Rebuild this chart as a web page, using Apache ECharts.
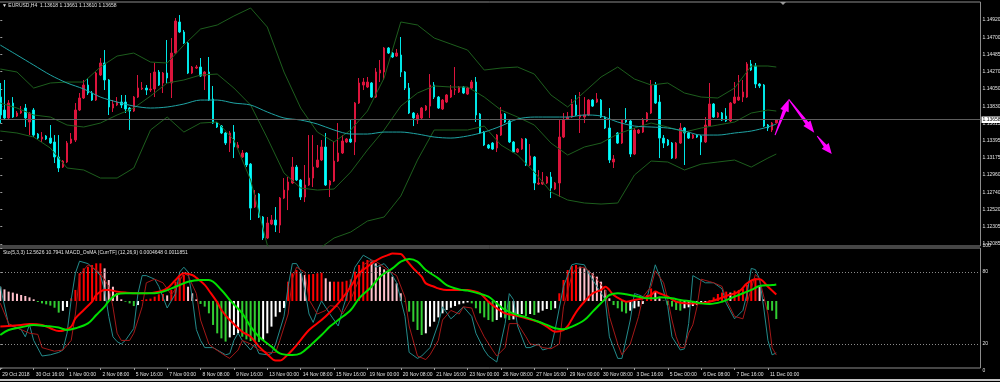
<!DOCTYPE html>
<html><head><meta charset="utf-8">
<script src="https://cdn.jsdelivr.net/npm/echarts@6/dist/echarts.min.js"></script>
<style>html,body{margin:0;padding:0;background:#000;overflow:hidden}#c{width:1000px;height:382px}</style>
</head><body><div id="c"></div>
<script>
// ---------- price bars (EURUSD H4), bar index 0 = 29 Oct 2018 08:00 ----------
const candleOpen = [
1.13945,1.13781,1.13680,1.13869,1.13705,1.13743,1.13806,1.13629,1.13781,1.13477,
1.13414,1.13452,1.13426,1.13376,1.13186,1.13059,1.13123,1.13363,1.13401,1.13781,
1.13933,1.14097,1.13996,1.13907,1.14224,1.14376,1.14161,1.13806,1.13844,1.13882,
1.13882,1.13806,1.13768,1.13945,1.14047,1.14059,1.14034,1.14047,1.14262,1.14123,
1.14249,1.14123,1.14502,1.14895,1.14768,1.14629,1.14249,1.14312,1.14325,1.14211,
1.14262,1.13920,1.13616,1.13578,1.13490,1.13363,1.13502,1.13300,1.13186,1.13237,
1.13097,1.12553,1.12718,1.12427,1.12161,1.12338,1.12389,1.12325,1.12667,1.12768,
1.12857,1.13059,1.12895,1.12680,1.12832,1.12920,1.13059,1.13148,1.13313,1.12832,
1.12882,1.13135,1.13237,1.13376,1.13414,1.13376,1.13869,1.14097,1.14072,1.14123,
1.13945,1.14249,1.14262,1.14566,1.14502,1.14464,1.14477,1.14262,1.14059,1.13743,
1.13654,1.13680,1.13781,1.13831,1.14097,1.13945,1.13794,1.13882,1.13945,1.14034,
1.14009,1.14072,1.13983,1.14059,1.14135,1.13730,1.13502,1.13338,1.13363,1.13300,
1.13464,1.13730,1.13642,1.13376,1.13249,1.13287,1.13414,1.13085,1.13186,1.12844,
1.12844,1.12857,1.12933,1.12781,1.12857,1.13439,1.13667,1.13692,1.13844,1.13692,
1.13692,1.13718,1.13907,1.13882,1.13907,1.13692,1.13553,1.13123,1.13490,1.13363,
1.13654,1.13642,1.13224,1.13490,1.13502,1.13642,1.13743,1.14097,1.13882,1.13426,
1.13401,1.13363,1.13173,1.13363,1.13553,1.13490,1.13426,1.13464,1.13452,1.13376,
1.13578,1.13857,1.13692,1.13743,1.13705,1.13642,1.13869,1.13907,1.13945,1.13945,
1.14363,1.14338,1.14110,1.14097,1.13591,1.13528,1.13618];
const candleClose = [
1.13718,1.13680,1.13869,1.13692,1.13743,1.13768,1.13680,1.13743,1.13464,1.13426,
1.13439,1.13414,1.13363,1.13186,1.13047,1.13135,1.13363,1.13414,1.13781,1.13933,
1.14097,1.13996,1.13907,1.14249,1.14376,1.14161,1.13819,1.13857,1.13882,1.13844,
1.13794,1.13768,1.13945,1.14059,1.14059,1.14034,1.14047,1.14262,1.14097,1.14249,
1.14186,1.14502,1.14907,1.14768,1.14629,1.14249,1.14325,1.14325,1.14211,1.14262,
1.13907,1.13616,1.13566,1.13490,1.13363,1.13490,1.13313,1.13338,1.13237,1.13085,
1.12540,1.12705,1.12427,1.12161,1.12351,1.12389,1.12325,1.12667,1.12768,1.12870,
1.13059,1.12895,1.12680,1.12832,1.12920,1.13059,1.13148,1.13313,1.12832,1.12882,
1.13135,1.13237,1.13389,1.13414,1.13376,1.13869,1.14123,1.14135,1.14135,1.13945,
1.14262,1.14287,1.14566,1.14502,1.14452,1.14502,1.14262,1.14059,1.13743,1.13680,
1.13718,1.13806,1.13831,1.14097,1.13945,1.13806,1.13907,1.13971,1.14034,1.14040,
1.14072,1.13996,1.14059,1.14135,1.13718,1.13490,1.13338,1.13300,1.13287,1.13464,
1.13730,1.13629,1.13376,1.13249,1.13287,1.13414,1.13085,1.13199,1.12857,1.12857,
1.12870,1.12933,1.12794,1.12857,1.13439,1.13654,1.13692,1.13857,1.13718,1.13718,
1.13718,1.13907,1.13831,1.13920,1.13692,1.13553,1.13148,1.13161,1.13363,1.13654,
1.13629,1.13224,1.13528,1.13528,1.13654,1.13743,1.14097,1.13869,1.13426,1.13363,
1.13338,1.13173,1.13363,1.13553,1.13490,1.13426,1.13464,1.13439,1.13376,1.13591,
1.13857,1.13692,1.13743,1.13654,1.13642,1.13869,1.13945,1.13945,1.14009,1.14363,
1.14287,1.14110,1.14085,1.13578,1.13553,1.13616,1.13658];
const candleLow = [
1.13616,1.13667,1.13667,1.13680,1.13692,1.13730,1.13566,1.13464,1.13439,1.13414,
1.13376,1.13401,1.13351,1.13110,1.12996,1.13047,1.13110,1.13351,1.13376,1.13768,
1.13920,1.13971,1.13895,1.13895,1.14211,1.14034,1.13718,1.13756,1.13831,1.13806,
1.13743,1.13528,1.13756,1.13933,1.14034,1.13971,1.14009,1.13945,1.14085,1.13996,
1.14123,1.13933,1.14490,1.14755,1.14616,1.14236,1.14236,1.14300,1.14199,1.14034,
1.13895,1.13604,1.13553,1.13477,1.13338,1.13249,1.13173,1.13287,1.13173,1.13059,
1.12389,1.12541,1.12414,1.12136,1.12148,1.12325,1.12237,1.12224,1.12654,1.12515,
1.12844,1.12882,1.12642,1.12616,1.12819,1.12806,1.13047,1.13135,1.12819,1.12680,
1.12870,1.13123,1.13224,1.13363,1.13363,1.13211,1.13857,1.14034,1.14059,1.13933,
1.13933,1.14135,1.14161,1.14490,1.14439,1.14452,1.14199,1.14034,1.13730,1.13578,
1.13604,1.13667,1.13768,1.13680,1.13920,1.13794,1.13781,1.13869,1.13933,1.13971,
1.13996,1.13983,1.13971,1.14047,1.13629,1.13477,1.13325,1.13287,1.13275,1.13249,
1.13452,1.13616,1.13363,1.13237,1.13237,1.13275,1.13072,1.13072,1.12768,1.12832,
1.12832,1.12844,1.12667,1.12768,1.12680,1.13426,1.13654,1.13680,1.13705,1.13490,
1.13616,1.13705,1.13819,1.13869,1.13680,1.13540,1.13110,1.13047,1.13351,1.13351,
1.13616,1.13186,1.13211,1.13477,1.13490,1.13629,1.13730,1.13857,1.13173,1.13300,
1.13325,1.13161,1.13161,1.13351,1.13085,1.13414,1.13414,1.13426,1.13211,1.13363,
1.13566,1.13680,1.13680,1.13642,1.13629,1.13629,1.13857,1.13895,1.13882,1.13933,
1.14274,1.14059,1.14059,1.13566,1.13515,1.13502,1.13610];
const candleHigh = [
1.14123,1.14161,1.13907,1.13945,1.13768,1.13831,1.13857,1.13756,1.13806,1.13490,
1.13502,1.13464,1.13591,1.13464,1.13464,1.13148,1.13389,1.13490,1.13869,1.13996,
1.14161,1.14186,1.14021,1.14262,1.14439,1.14540,1.14173,1.13907,1.13945,1.13971,
1.13971,1.13819,1.13958,1.14224,1.14135,1.14097,1.14249,1.14376,1.14287,1.14262,
1.14667,1.14692,1.14945,1.14983,1.14793,1.14641,1.14338,1.14350,1.14439,1.14274,
1.14452,1.14085,1.13629,1.13591,1.13502,1.13515,1.13591,1.13376,1.13275,1.13249,
1.13110,1.12768,1.12730,1.12439,1.12427,1.12452,1.12553,1.12680,1.12920,1.12933,
1.13186,1.13085,1.12908,1.13085,1.13464,1.13464,1.13338,1.13401,1.13490,1.12895,
1.13376,1.13616,1.13464,1.13426,1.13667,1.13882,1.14186,1.14186,1.14199,1.14135,
1.14312,1.14414,1.14578,1.14578,1.14515,1.14553,1.14705,1.14274,1.14123,1.13756,
1.13743,1.13819,1.13844,1.14236,1.14135,1.13958,1.13920,1.13983,1.14097,1.14325,
1.14085,1.14085,1.14072,1.14161,1.14199,1.13743,1.13515,1.13351,1.13376,1.13477,
1.13819,1.13743,1.13654,1.13389,1.13300,1.13426,1.13426,1.13351,1.13199,1.13021,
1.12996,1.12946,1.12996,1.12870,1.13654,1.13743,1.13756,1.13920,1.13971,1.14009,
1.13945,1.13920,1.13920,1.13996,1.13920,1.13705,1.13806,1.13211,1.13502,1.13667,
1.13806,1.13654,1.13553,1.13540,1.13680,1.13756,1.14161,1.14135,1.13971,1.13464,
1.13414,1.13376,1.13376,1.13616,1.13566,1.13502,1.13477,1.13477,1.13464,1.13692,
1.14123,1.13869,1.13756,1.13756,1.13806,1.13882,1.14135,1.14224,1.14161,1.14388,
1.14414,1.14376,1.14123,1.14110,1.13604,1.13629,1.13661];

// ---------- indicator lines on the price panel, read at every 4th bar ----------
const bandIdx = [0,4,8,12,16,20,24,28,32,36,40,44,48,52,56,60,64,68,72,76,80,84,88,92,96,100,104,108,112,116,120,124,128,132,136,140,144,148,152,156,160,164,168,172,176,180,184,186];
const bbUpper = [1.14300,1.14262,1.14059,1.14123,1.14135,1.14135,1.14325,1.14464,1.14502,1.14388,1.14376,1.14603,1.14806,1.14857,1.14971,1.15072,1.14831,1.14262,1.13806,1.13502,1.13376,1.13528,1.13768,1.14186,1.14895,1.14857,1.14692,1.14616,1.14540,1.14287,1.14312,1.14325,1.14236,1.13971,1.13819,1.14009,1.14199,1.14325,1.14173,1.14097,1.14123,1.13996,1.13945,1.13933,1.14059,1.14338,1.14338,1.14325];
const bbMiddle = [1.13869,1.13806,1.13718,1.13692,1.13591,1.13566,1.13616,1.13718,1.13806,1.13958,1.14123,1.14161,1.14224,1.14236,1.14059,1.13844,1.13426,1.12984,1.12794,1.12768,1.12781,1.12996,1.13275,1.13528,1.13831,1.13996,1.14085,1.14072,1.14072,1.13945,1.13781,1.13692,1.13591,1.13363,1.13211,1.13313,1.13363,1.13477,1.13553,1.13616,1.13566,1.13502,1.13553,1.13591,1.13629,1.13743,1.13781,1.13768];
const bbLower = [1.13515,1.13490,1.13439,1.13300,1.13047,1.13022,1.12920,1.12920,1.13047,1.13528,1.13692,1.13502,1.13616,1.13629,1.13401,1.12895,1.12072,1.11756,1.11781,1.12009,1.12161,1.12237,1.12376,1.12427,1.12692,1.13148,1.13528,1.13528,1.13528,1.13578,1.13338,1.13211,1.12996,1.12743,1.12642,1.12604,1.12591,1.12604,1.12958,1.13135,1.13123,1.13022,1.13097,1.13123,1.13148,1.13059,1.13173,1.13224];
const maLine = [1.14603,1.14477,1.14350,1.14224,1.14123,1.14047,1.13945,1.13882,1.13831,1.13806,1.13819,1.13857,1.13907,1.13907,1.13869,1.13844,1.13756,1.13680,1.13654,1.13604,1.13528,1.13477,1.13477,1.13502,1.13502,1.13477,1.13439,1.13426,1.13452,1.13502,1.13578,1.13667,1.13692,1.13692,1.13692,1.13718,1.13705,1.13629,1.13578,1.13566,1.13553,1.13515,1.13464,1.13464,1.13490,1.13515,1.13566,1.13604];

// ---------- sub window: Stochastic (5,3,3) [barIndex, value] ----------
const stochMain = [[0,68],[2,36],[5,32],[6,26],[7,36],[8,23],[10,10],[12,11],[14,13],[15,15],[16,29],[17,57],[18,79],[19,89],[21,87],[23,81],[24,77],[25,65],[26,43],[27,26],[28,22],[29,20],[30,23],[32,33],[33,62],[34,77],[35,77],[37,74],[38,68],[40,50],[42,62],[43,80],[44,84],[45,80],[46,59],[47,32],[48,23],[49,17],[51,17],[52,15],[54,11],[55,12],[56,23],[57,29],[58,23],[60,15],[61,20],[62,12],[64,11],[65,12],[66,20],[68,43],[69,68],[70,87],[71,87],[72,81],[73,65],[74,45],[75,38],[76,48],[77,56],[79,45],[81,35],[82,48],[84,71],[85,84],[87,94],[89,90],[90,84],[92,87],[93,83],[95,71],[97,43],[98,13],[100,8],[101,10],[103,17],[105,37],[106,51],[108,41],[109,44],[111,51],[113,43],[114,29],[116,15],[117,10],[119,5],[121,37],[122,62],[123,57],[124,35],[126,17],[127,17],[129,20],[130,15],[132,17],[133,32],[135,68],[137,86],[138,87],[140,86],[141,79],[143,68],[145,57],[146,26],[148,8],[149,8],[151,40],[152,62],[153,61],[155,58],[157,86],[158,77],[160,51],[161,26],[163,15],[164,16],[165,37],[166,77],[167,75],[169,71],[171,71],[173,66],[174,54],[176,41],[178,48],[179,62],[180,83],[181,82],[182,74],[183,50],[184,23],[185,11],[186,12.5626]];
const stochSignal = [[0,54],[2,37],[5,32],[7,29],[9,28],[10,17],[13,14],[15,15],[17,23],[18,45],[19,77],[21,86],[22,84],[24,79],[26,68],[27,51],[28,29],[29,23],[31,23],[32,29],[34,51],[35,71],[37,74],[39,71],[41,61],[42,66],[44,79],[45,77],[47,62],[48,40],[50,20],[51,17],[54,10],[55,8],[57,15],[58,23],[60,20],[62,15],[64,13],[66,13],[67,23],[69,45],[70,74],[71,84],[73,80],[74,57],[76,45],[78,48],[79,52],[81,51],[82,45],[84,57],[86,74],[87,86],[89,90],[90,89],[92,84],[94,79],[95,77],[97,59],[98,35],[100,10],[102,7],[103,11],[105,23],[106,40],[108,48],[110,45],[111,51],[113,50],[114,40],[116,26],[118,15],[119,10],[121,17],[122,37],[124,37],[126,26],[127,20],[129,19],[130,17],[132,16],[134,20],[135,51],[137,77],[138,83],[140,84],[141,81],[143,74],[145,65],[146,43],[148,20],[149,11],[151,20],[153,43],[154,59],[156,68],[157,81],[159,71],[160,57],[161,40],[162,26],[163,17],[164,17],[165,29],[166,36],[167,51],[168,74],[170,72],[171,71],[173,68],[174,57],[176,43],[178,41],[179,54],[181,78],[182,74],[184,45],[185,17],[186,10.7941]];
const stochLevels = [80, 20];
const stochTicks = [100, 80, 20, 0];

// ---------- sub window: MACD_OsMA (12,26,9), values in 0.0001 ----------
const macdMain = [[0,-18.3],[2,-17.9],[5,-17.1],[7,-16.4],[10,-17.1],[12,-19.5],[14,-21.5],[15,-21.2],[17,-18.3],[18,-12.4],[20,-6.4],[22,-0.5],[23,4.3],[25,7.9],[26,7.9],[28,6.7],[30,6.0],[33,5.5],[35,5.5],[38,6.7],[40,9.0],[42,15.0],[44,19.8],[46,18.6],[47,16.5],[49,11.5],[50,7.5],[52,-1.0],[53,-6.4],[55,-13.6],[58,-21.9],[60,-25.5],[62,-32.6],[64,-38.0],[66,-42.5],[67,-42.5],[69,-38.0],[70,-35.0],[72,-27.9],[74,-20.7],[77,-13.6],[79,-8.0],[81,-1.7],[84,10.2],[86,19.8],[88,24.5],[89,26.9],[91,30.5],[93,32.9],[94,34.0],[96,33.6],[97,30.5],[99,23.3],[101,17.4],[102,12.6],[104,10.2],[105,9.0],[107,7.9],[110,7.9],[112,7.9],[113,7.4],[115,5.5],[117,-0.5],[119,-5.2],[121,-8.8],[124,-10.7],[126,-12.4],[129,-14.8],[131,-18.3],[133,-21.9],[135,-20.7],[136,-18.0],[137,-13.0],[138,-8.0],[139,-4.0],[140,-0.5],[142,5.5],[144,7.9],[145,10.2],[147,4.3],[149,0.7],[150,-0.5],[152,0.7],[154,1.9],[156,4.3],[157,6.7],[158,5.5],[160,3.1],[162,-0.5],[165,-1.7],[167,-1.7],[169,-1.2],[170,-0.5],[172,1.2],[174,3.6],[177,6.7],[179,12.6],[181,15.5],[182,15.5],[184,10.2],[186,4.648]];
const macdSignal = [[0,-24.3],[2,-20.7],[5,-18.8],[8,-17.1],[11,-17.9],[14,-19.0],[16,-20.7],[18,-19.5],[21,-16.0],[23,-10.0],[25,-4.0],[26,0.0],[28,4.8],[30,5.5],[34,5.5],[37,5.5],[39,6.7],[42,10.2],[45,13.8],[48,15.0],[50,15.0],[53,7.9],[55,0.7],[58,-8.8],[60,-18.3],[62,-25.5],[65,-32.6],[67,-37.4],[70,-38.6],[72,-37.4],[74,-32.6],[77,-24.3],[79,-18.3],[81,-13.6],[84,-6.4],[86,1.9],[89,10.2],[91,17.4],[94,23.3],[96,28.1],[98,30.0],[100,28.1],[102,22.1],[105,16.2],[107,11.4],[110,8.3],[112,7.4],[114,6.0],[117,3.1],[119,-1.7],[121,-6.4],[124,-10.0],[126,-11.7],[129,-14.8],[131,-17.1],[133,-19.5],[135,-20.2],[137,-18.3],[140,-13.6],[142,-7.6],[145,1.5],[146,4.3],[148,5.5],[150,4.8],[153,3.1],[155,1.9],[157,1.9],[158,2.6],[161,1.9],[163,0.7],[166,-0.5],[168,-1.7],[170,-2.1],[173,-0.5],[175,1.9],[177,4.3],[180,7.9],[182,10.7],[185,11.4],[186,11.851]];
const osmaHist = [
10.2,8.3,6.7,6.0,5.2,4.3,3.6,2.6,1.2,-0.7,
-1.7,-2.4,-3.3,-4.8,-8.3,-7.0,-4.3,1.9,7.9,19.8,
23.3,24.5,25.7,26.9,26.9,23.3,15.0,10.2,5.5,1.2,
-0.5,-1.7,-3.6,-2.9,0.7,1.2,1.7,3.1,4.8,5.0,
4.0,7.9,13.8,16.9,18.6,10.2,5.5,1.2,-2.1,-4.0,
-8.8,-17.1,-23.1,-26.7,-29.0,-26.0,-24.3,-23.1,-25.5,-27.4,
-28.6,-29.0,-29.3,-27.9,-23.1,-18.3,-11.2,-8.0,-5.0,13.8,
19.8,22.1,19.8,18.6,19.0,19.3,19.8,20.2,16.2,13.8,
13.8,13.8,13.8,14.5,15.5,21.0,25.7,28.1,29.3,28.1,
26.9,24.5,22.6,21.0,17.4,12.6,5.5,-0.5,-7.6,-14.8,
-20.7,-24.3,-23.1,-18.3,-14.8,-11.7,-8.8,-6.4,-4.8,-3.6,
-2.4,-1.7,-1.0,-1.7,-5.2,-8.8,-11.7,-13.6,-14.8,-13.6,
-11.7,-12.4,-13.6,-13.1,-11.2,-9.3,-10.7,-9.3,-10.0,-8.3,
-6.9,-5.7,-6.4,-5.2,5.5,15.0,22.1,25.0,25.7,24.5,
23.3,21.7,19.8,17.4,13.8,7.9,1.9,-2.9,-5.2,-7.6,
-8.8,-6.9,-5.2,-4.0,-2.1,4.3,9.0,6.7,1.9,0.2,
-2.9,-4.0,-6.4,-6.9,-5.2,-4.5,-3.6,-2.9,-1.7,-0.7,
0.7,2.6,5.0,6.0,6.7,6.0,7.4,7.9,9.0,11.4,
15.0,16.2,10.2,1.2,-6.4,-6.9,-12.9];

// ---------- axes: tick labels ----------
const priceTicks = [1.14920,1.14700,1.14485,1.14270,1.14050,1.13830,1.13615,1.13395,1.13175,1.12960,1.12740,1.12520,1.12305,1.12085];
const dateTicks = [0,8,16,24,32,40,48,56,64,72,80,88,96,104,112,120,128,136,144,152,160,168,176,184];
const dateLabels = ['29 Oct 2018','30 Oct 16:00','1 Nov 00:00','2 Nov 08:00','5 Nov 16:00','7 Nov 00:00','8 Nov 08:00','9 Nov 16:00','13 Nov 00:00','14 Nov 08:00','15 Nov 16:00','19 Nov 00:00','20 Nov 08:00','21 Nov 16:00','23 Nov 00:00','26 Nov 08:00','27 Nov 16:00','29 Nov 00:00','30 Nov 08:00','3 Dec 16:00','5 Dec 00:00','6 Dec 08:00','7 Dec 16:00','11 Dec 00:00'];

// ---------- drawn arrows (bar index, price): tail -> head ----------
const arrowSegments = [
  [[185.7,1.13464],[189.0,1.13916]],
  [[189.0,1.13916],[195.1,1.13494]],
  [[195.8,1.13452],[199.3,1.13224]]
];

const titleText = '\u25BC EURUSD,H4  1.13618 1.13661 1.13610 1.13658';
const subTitleText = 'Sto(5,3,3) 12.5626 10.7941 MACD_OsMA [CurrTF] (12,26,9) 0.0004648 0.0011851';

// ---------- build ----------
const FONT = 'Liberation Sans';
const X_MIN = -0.31, X_MAX = 234.95;
const candles = candleOpen.map((o, i) => [i, o, candleClose[i], candleLow[i], candleHigh[i]]);
const pairs = (vals) => bandIdx.map((b, k) => [b, vals[k]]);
const lastClose = candleClose[candleClose.length - 1];
const histData = osmaHist.map((v, i) => {
  const d = i > 0 ? v - osmaHist[i - 1] : osmaHist[1] - v;
  let c;
  if (v >= 0) c = d >= 0 ? '#ff0000' : '#ffc0cb';
  else c = d <= 0 ? '#32cd32' : '#ffffff';
  return { value: [i, v], itemStyle: { color: c } };
});

function renderArrow(params, api) {
  const a = api.coord([api.value(0), api.value(1)]);
  const b = api.coord([api.value(2), api.value(3)]);
  const dx = b[0] - a[0], dy = b[1] - a[1];
  const len = Math.hypot(dx, dy) || 1;
  const ux = dx / len, uy = dy / len, nx = -uy, ny = ux;
  const headLen = Math.min(12, len * 0.45), headW = 4.5, neckW = 1.8, tailW = 0.5;
  const hb = [b[0] - ux * headLen, b[1] - uy * headLen];
  const pts = [
    [a[0] + nx * tailW, a[1] + ny * tailW],
    [hb[0] + nx * neckW, hb[1] + ny * neckW],
    [hb[0] + nx * headW, hb[1] + ny * headW],
    [b[0], b[1]],
    [hb[0] - nx * headW, hb[1] - ny * headW],
    [hb[0] - nx * neckW, hb[1] - ny * neckW],
    [a[0] - nx * tailW, a[1] - ny * tailW]
  ];
  return { type: 'polygon', shape: { points: pts }, style: { fill: '#ff00ff' } };
}

const chart = echarts.init(document.getElementById('c'), null, { renderer: 'canvas' });
const gridCommon = { left: -1, width: 981.5, show: true, borderColor: '#8c8c8c', borderWidth: 1, backgroundColor: 'transparent', containLabel: false, outerBoundsMode: 'none' };
const lineCommon = { type: 'line', symbol: 'none', silent: true, clip: true };

chart.setOption({
  animation: false,
  backgroundColor: '#000',
  title: [
    { text: titleText, left: 2, top: 3, padding: 0, textStyle: { color: '#e0e0e0', fontSize: 5, fontWeight: 'normal', fontFamily: FONT } },
    { text: subTitleText, left: 3, top: 250, padding: 0, textStyle: { color: '#e0e0e0', fontSize: 5, fontWeight: 'normal', fontFamily: FONT } }
  ],
  grid: [
    Object.assign({ top: 2, height: 244 }, gridCommon),
    Object.assign({ top: 248, height: 120 }, gridCommon)
  ],
  xAxis: [
    { type: 'value', gridIndex: 0, min: X_MIN, max: X_MAX, show: false },
    { type: 'value', gridIndex: 1, min: X_MIN, max: X_MAX,
      splitLine: { show: false }, axisLine: { show: false },
      axisTick: { show: true, customValues: dateTicks, length: 2, lineStyle: { color: '#9a9a9a' } },
      axisLabel: { customValues: dateTicks, formatter: (v) => { const k = dateTicks.indexOf(Math.round(v)); return k >= 0 ? dateLabels[k] : ''; },
        align: 'left', padding: [0, 0, 0, 2], margin: 4, color: '#e0e0e0', fontSize: 5, fontFamily: FONT, hideOverlap: false } }
  ],
  yAxis: [
    { type: 'value', gridIndex: 0, position: 'right', min: 1.12060, max: 1.15148,
      splitLine: { show: false }, axisLine: { show: false },
      axisTick: { show: true, customValues: priceTicks, length: 2, lineStyle: { color: '#9a9a9a' } },
      axisLabel: { customValues: priceTicks, formatter: (v) => v.toFixed(5), margin: 2, color: '#e0e0e0', fontSize: 5, fontFamily: FONT, hideOverlap: false } },
    { type: 'value', gridIndex: 1, position: 'right', min: 0, max: 100,
      splitLine: { show: false }, axisLine: { show: false },
      axisTick: { show: true, customValues: stochTicks, length: 2, lineStyle: { color: '#9a9a9a' } },
      axisLabel: { customValues: stochTicks, margin: 2, color: '#e0e0e0', fontSize: 5, fontFamily: FONT,
        verticalAlignMaxLabel: 'top', verticalAlignMinLabel: 'bottom', hideOverlap: false } },
    { type: 'value', gridIndex: 1, position: 'right', min: -47.86, max: 37.86, show: false, splitLine: { show: false } }
  ],
  graphic: [
    { type: 'polygon', silent: true, shape: { points: [[780, 2], [786, 2], [783, 5]] }, style: { fill: '#9a9a9a' } },
    { type: 'rect', silent: true, shape: { x: 0, y: 379, width: 1000, height: 2 }, style: { fill: '#c4c4c4' } }
  ],
  series: [
    Object.assign({ name: 'BB upper', xAxisIndex: 0, yAxisIndex: 0, data: pairs(bbUpper), lineStyle: { color: '#1d5e1d', width: 1 } }, lineCommon),
    Object.assign({ name: 'BB middle', xAxisIndex: 0, yAxisIndex: 0, data: pairs(bbMiddle), lineStyle: { color: '#1d5e1d', width: 1 } }, lineCommon),
    Object.assign({ name: 'BB lower', xAxisIndex: 0, yAxisIndex: 0, data: pairs(bbLower), lineStyle: { color: '#1d5e1d', width: 1 } }, lineCommon),
    { type: 'candlestick', xAxisIndex: 0, yAxisIndex: 0, data: candles, barWidth: 2, silent: true,
      itemStyle: { color: '#dc143c', color0: '#00ffff', borderColor: '#dc143c', borderColor0: '#00e6e6', borderWidth: 1 } },
    Object.assign({ name: 'MA', xAxisIndex: 0, yAxisIndex: 0, data: pairs(maLine), smooth: 0.3, lineStyle: { color: '#1fa3a3', width: 1 },
      markLine: { silent: true, symbol: ['none', 'none'], animation: false, precision: 5,
        lineStyle: { color: '#5e5e5e', width: 1, type: 'solid' },
        label: { show: true, position: 'end', distance: 1, formatter: () => lastClose.toFixed(5),
          backgroundColor: '#ffffff', color: '#000000', fontSize: 5, fontFamily: FONT, padding: [1, 4, 0.5, 1] },
        emphasis: { disabled: true },
        data: [{ yAxis: lastClose }] } }, lineCommon),
    { type: 'custom', name: 'arrows', xAxisIndex: 0, yAxisIndex: 0, silent: true, clip: false,
      data: arrowSegments.map(s => [s[0][0], s[0][1], s[1][0], s[1][1]]),
      encode: { x: [0, 2], y: [1, 3] }, renderItem: renderArrow },
    { type: 'bar', xAxisIndex: 1, yAxisIndex: 2, data: histData, barWidth: 2, silent: true },
    Object.assign({ name: 'Sto main', xAxisIndex: 1, yAxisIndex: 1, data: stochMain, lineStyle: { color: '#238b8b', width: 1 },
      markLine: { silent: true, symbol: ['none', 'none'], animation: false, label: { show: false }, emphasis: { disabled: true },
        lineStyle: { color: '#8a8a8a', width: 1, type: [1, 2] },
        data: stochLevels.map(v => ({ yAxis: v })) } }, lineCommon),
    Object.assign({ name: 'Sto signal', xAxisIndex: 1, yAxisIndex: 1, data: stochSignal, lineStyle: { color: '#a31818', width: 1 } }, lineCommon),
    Object.assign({ name: 'MACD', xAxisIndex: 1, yAxisIndex: 2, data: macdMain, smooth: 0.35, lineStyle: { color: '#ff0000', width: 2 } }, lineCommon),
    Object.assign({ name: 'Signal', xAxisIndex: 1, yAxisIndex: 2, data: macdSignal, smooth: 0.35, lineStyle: { color: '#00e000', width: 2 } }, lineCommon)
  ]
});
</script></body></html>
